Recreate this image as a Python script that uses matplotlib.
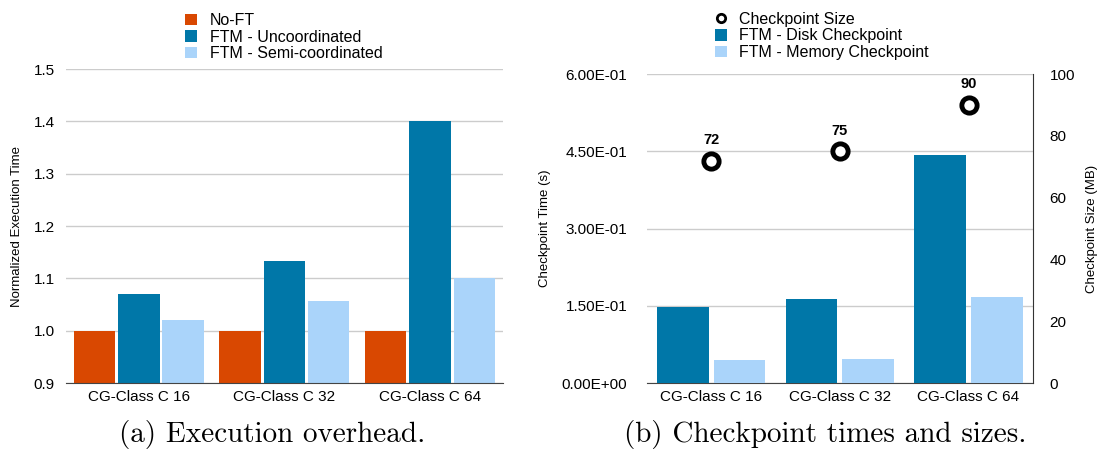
import numpy as np
import matplotlib.pyplot as plt
from matplotlib.lines import Line2D

plt.rcParams['font.family'] = ['Liberation Sans', 'DejaVu Sans']

categories = ['CG-Class C 16', 'CG-Class C 32', 'CG-Class C 64']

# (a) normalized execution time
no_ft = [1.0, 1.0, 1.0]
ftm_uncoord = [1.07, 1.133, 1.40]
ftm_semi = [1.02, 1.057, 1.10]

# (b) checkpoint times (s) and sizes (MB)
disk_ckpt = [0.148, 0.163, 0.443]
mem_ckpt = [0.045, 0.047, 0.167]
ckpt_size = [72, 75, 90]

c_noft = '#d94801'
c_unc = '#0077a8'
c_semi = '#aad4fa'
grid_c = '#cccccc'

fig = plt.figure(figsize=(11, 4.55), dpi=100)
x = np.arange(len(categories))

# ---- left panel
ax1 = fig.add_axes([0.060, 0.158, 0.397, 0.690])
w = 0.285
ax1.bar(x - 0.305, no_ft, w, color=c_noft, label='No-FT', zorder=3)
ax1.bar(x, ftm_uncoord, w, color=c_unc, label='FTM - Uncoordinated', zorder=3)
ax1.bar(x + 0.305, ftm_semi, w, color=c_semi, label='FTM - Semi-coordinated', zorder=3)
ax1.set_ylim(0.9, 1.5)
ax1.set_xlim(-0.5, 2.5)
ax1.set_yticks(np.arange(0.9, 1.51, 0.1))
ax1.set_yticklabels(['%.1f' % v for v in np.arange(0.9, 1.51, 0.1)])
ax1.set_xticks(x)
ax1.set_xticklabels(categories)
ax1.set_ylabel('Normalized Execution Time', fontsize=9.5, labelpad=8)
ax1.yaxis.grid(True, color=grid_c, linewidth=1, zorder=0)
for s in ['top', 'right', 'left']:
    ax1.spines[s].set_visible(False)
ax1.spines['bottom'].set_color('#444444')
ax1.spines['bottom'].set_zorder(4)
ax1.tick_params(length=0, labelsize=11, pad=8)
ax1.tick_params(axis='x', pad=5)
ax1.legend(loc='lower left', bbox_to_anchor=(0.255, 1.0), frameon=False, fontsize=11.5,
           handlelength=0.75, handleheight=0.75, handletextpad=0.8, labelspacing=0.1,
           borderpad=0)

# ---- right panel
ax2 = fig.add_axes([0.588, 0.158, 0.351, 0.679])
w2 = 0.40
ax2.bar(x - 0.22, disk_ckpt, w2, color=c_unc, label='FTM - Disk Checkpoint', zorder=3)
ax2.bar(x + 0.22, mem_ckpt, w2, color=c_semi, label='FTM - Memory Checkpoint', zorder=3)
ax2.set_ylim(0, 0.6)
ax2.set_xlim(-0.5, 2.5)
ax2.set_yticks([0, 0.15, 0.30, 0.45, 0.60])
ax2.set_yticklabels(['0.00E+00', '1.50E-01', '3.00E-01', '4.50E-01', '6.00E-01'])
ax2.set_xticks(x)
ax2.set_xticklabels(categories)
ax2.set_ylabel('Checkpoint Time (s)', fontsize=9.5, labelpad=8)
ax2.yaxis.grid(True, color=grid_c, linewidth=1, zorder=0)
for s in ['top', 'right', 'left']:
    ax2.spines[s].set_visible(False)
ax2.spines['bottom'].set_color('#444444')
ax2.tick_params(length=0, labelsize=11, pad=14)
ax2.tick_params(axis='x', pad=5)

# checkpoint sizes on a secondary axis
ax3 = ax2.twinx()
ax3.set_ylim(0, 100)
ax3.set_yticks(np.arange(0, 101, 20))
ax3.plot(x, ckpt_size, 'o', markersize=11, markerfacecolor='white',
         markeredgecolor='black', markeredgewidth=3.5, linestyle='none',
         label='Checkpoint Size', zorder=5)
for xi, v in zip(x, ckpt_size):
    ax3.annotate(str(v), (xi, v), xytext=(0, 10), textcoords='offset points',
                 ha='center', va='bottom', fontsize=10.5, fontweight='bold')
ax3.set_ylabel('Checkpoint Size (MB)', fontsize=9.5, labelpad=8)
for s in ['top', 'left', 'bottom']:
    ax3.spines[s].set_visible(False)
ax3.spines['right'].set_color('#333333')
ax3.tick_params(length=0, labelsize=11, pad=12)

h2, l2 = ax2.get_legend_handles_labels()
size_handle = Line2D([], [], marker='o', linestyle='none', markersize=6,
                     markerfacecolor='white', markeredgecolor='black', markeredgewidth=2)
ax2.legend([size_handle] + h2, ['Checkpoint Size'] + l2, loc='lower left',
           bbox_to_anchor=(0.155, 1.02), frameon=False, fontsize=11.5,
           handlelength=0.75, handleheight=0.75, handletextpad=0.8, labelspacing=0.1,
           borderpad=0)

fig.text(0.247, 0.046, '(a) Execution overhead.', family='cmr10', fontsize=21,
         ha='center', va='center')
fig.text(0.750, 0.046, '(b) Checkpoint times and sizes.', family='cmr10', fontsize=21,
         ha='center', va='center')

fig.savefig('out.png', dpi=100)
